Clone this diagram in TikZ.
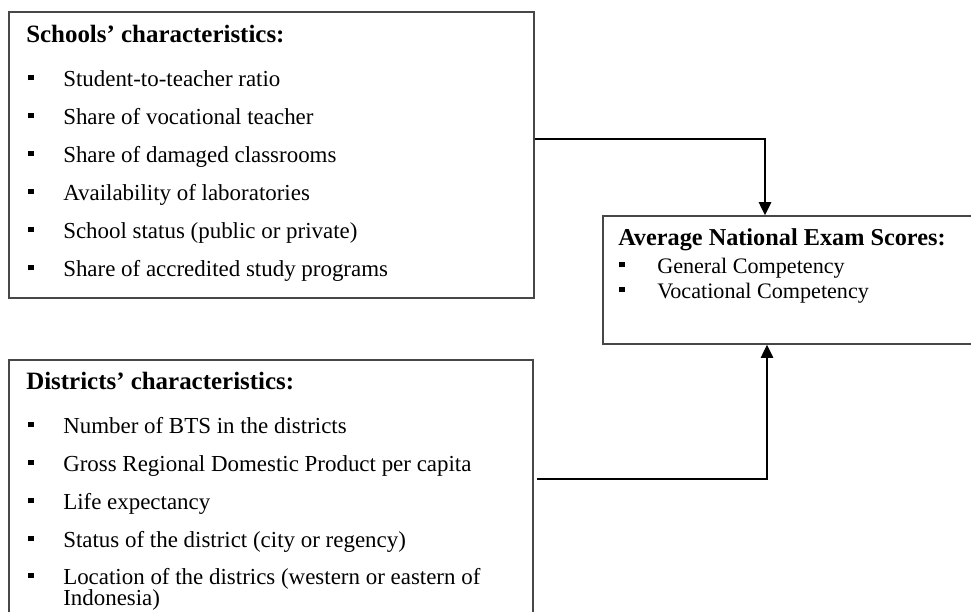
\documentclass[tikz,border=0pt]{standalone}
\usepackage{fontspec}
\setmainfont{Liberation Serif}
\usetikzlibrary{arrows.meta,fit}
\newcommand\sqbul{\rule[4.2pt]{4.4pt}{4.4pt}}
\tikzset{
  box/.style={draw=black!72, line width=0.9pt, inner sep=0pt, rectangle},
  head/.style={inner sep=0pt, anchor=base west, font=\fontsize{18.7pt}{22pt}\selectfont\bfseries},
  ohead/.style={inner sep=0pt, anchor=base west, font=\fontsize{18.2pt}{22pt}\selectfont\bfseries},
  item/.style={inner sep=0pt, anchor=base west, font=\fontsize{17.2pt}{20pt}\selectfont},
  oitem/.style={inner sep=0pt, anchor=base west, font=\fontsize{16.6pt}{20pt}\selectfont},
  conn/.style={line width=2.2pt, line join=miter, -{Triangle[length=10pt,width=9pt]}}
}
\begin{document}
\begin{tikzpicture}[x=0.75pt,y=-0.75pt]
\useasboundingbox (0,0) rectangle (971,611);
\clip (0,0) rectangle (971,611);
% boxes
\node[box, fit={(9,12) (534,298)}] (schools) {};
\node[box, fit={(9,360) (533,650)}] (districts) {};
\node[box, fit={(603,216) (990,344)}] (outcome) {};
% schools text
\node[head] (sh) at (26,42) {Schools’ characteristics:};
\node[item] (s1) at (28,86) {\makebox[26.25pt][l]{\sqbul}Student-to-teacher ratio};
\node[item] (s2) at (28,124) {\makebox[26.25pt][l]{\sqbul}Share of vocational teacher};
\node[item] (s3) at (28,162) {\makebox[26.25pt][l]{\sqbul}Share of damaged classrooms};
\node[item] (s4) at (28,200) {\makebox[26.25pt][l]{\sqbul}Availability of laboratories};
\node[item] (s5) at (28,238) {\makebox[26.25pt][l]{\sqbul}School status (public or private)};
\node[item] (s6) at (28,276) {\makebox[26.25pt][l]{\sqbul}Share of accredited study programs};
% districts text
\node[head] (dh) at (26,389) {Districts’ characteristics:};
\node[item] (d1) at (28,433) {\makebox[26.25pt][l]{\sqbul}Number of BTS in the districts};
\node[item] (d2) at (28,471) {\makebox[26.25pt][l]{\sqbul}Gross Regional Domestic Product per capita};
\node[item] (d3) at (28,509) {\makebox[26.25pt][l]{\sqbul}Life expectancy};
\node[item] (d4) at (28,547) {\makebox[26.25pt][l]{\sqbul}Status of the district (city or regency)};
\node[item] (d5) at (28,584) {\makebox[26.25pt][l]{\sqbul}Location of the districs (western or eastern of};
\node[item] (d5b) at (63,605) {Indonesia)};
% outcome text
\node[ohead] (oh) at (618,245) {Average National Exam Scores:};
\node[oitem] (o1) at (619,273) {\makebox[28.5pt][l]{\sqbul}General Competency};
\node[oitem] (o2) at (619,298) {\makebox[28.5pt][l]{\sqbul}Vocational Competency};
% connectors
\coordinate (j1) at (765,139);
\coordinate (j2) at (767,479);
\draw[conn] (schools.east |- j1) -| (j1 |- outcome.north);
\draw[conn] ([xshift=2.25pt]districts.east |- j2) -| (j2 |- outcome.south);
\end{tikzpicture}
\end{document}
